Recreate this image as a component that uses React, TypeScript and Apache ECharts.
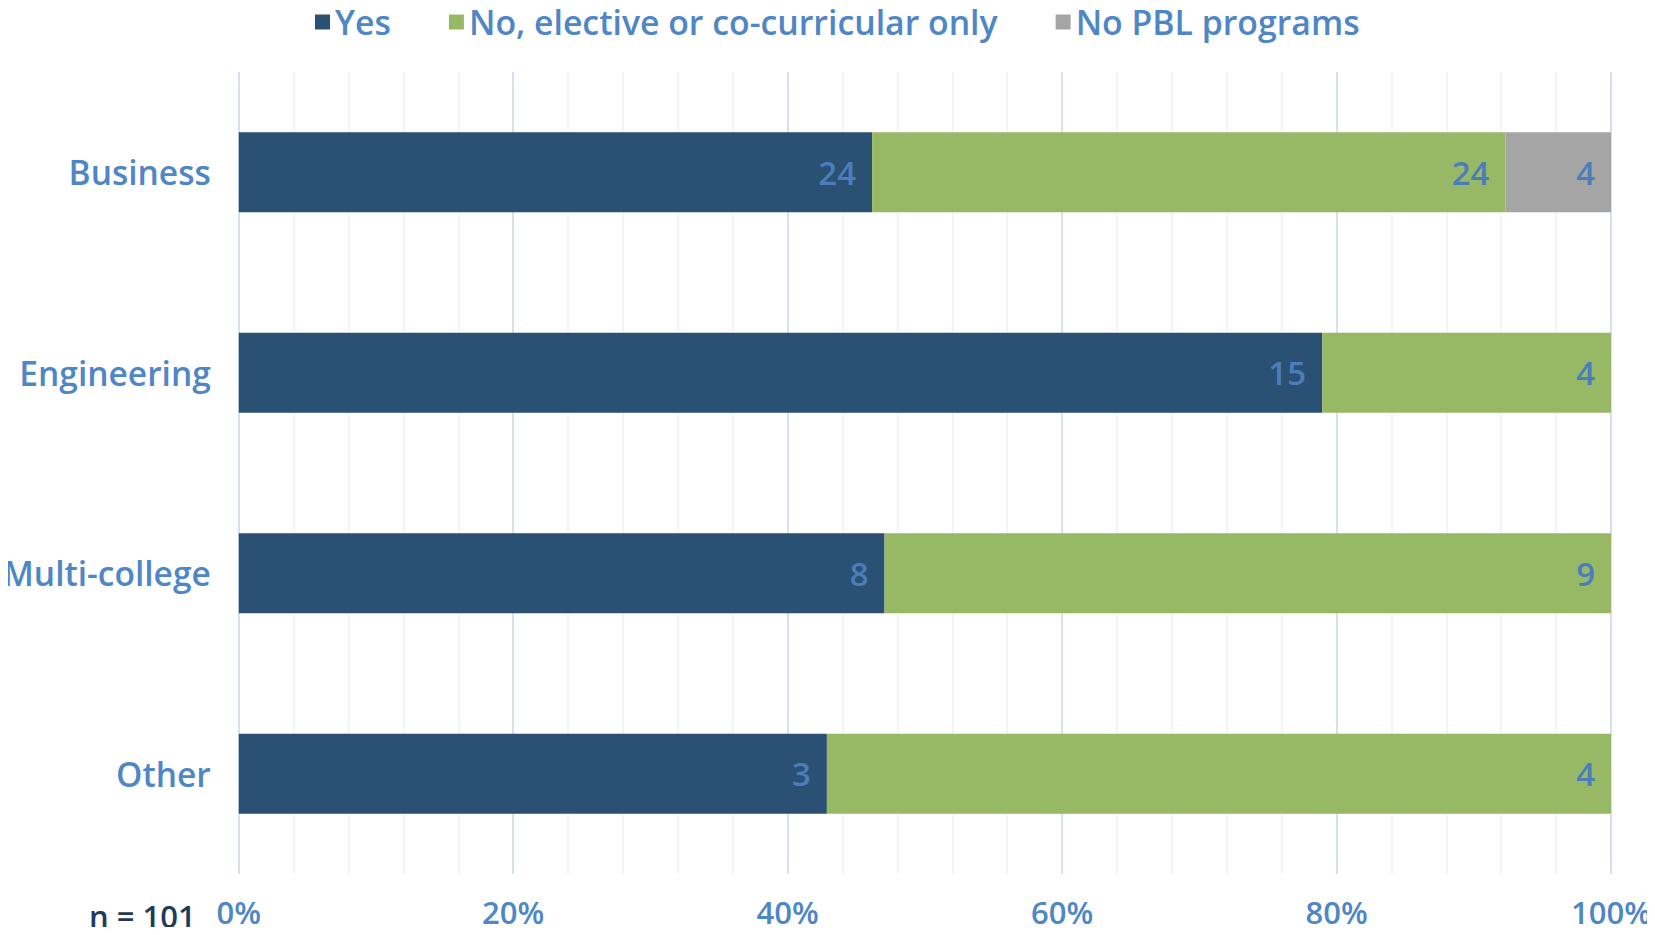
import React, { useEffect, useRef } from "react";
import * as echarts from "echarts";

const categories = ["Business", "Engineering", "Multi-college", "Other"];
const seriesNames = ["Yes", "No, elective or co-curricular only", "No PBL programs"];
const yesCounts = [24, 15, 8, 3];
const electiveCounts = [24, 4, 9, 4];
const noPblCounts = [4, 0, 0, 0];
const seriesColors = ["#2A5073", "#97B966", "#A5A5A5"];
const xTicks = [0, 20, 40, 60, 80, 100];
const noteText = "n = 101";

export default function App() {
  const ref = useRef<HTMLDivElement>(null);
  useEffect(() => {
    if (!ref.current) return;
    const chart = echarts.init(ref.current, undefined, { renderer: "svg" });
    const counts = [yesCounts, electiveCounts, noPblCounts];
    const totals = categories.map((_, i) => counts.reduce((s, arr) => s + arr[i], 0));
    const labelColor = "#4A7EBB";
    const font = "Open Sans";
    const series = counts.map((arr, si) => ({
      name: seriesNames[si],
      type: "bar",
      stack: "total",
      barCategoryGap: "60%",
      itemStyle: { color: seriesColors[si] },
      label: {
        show: true,
        position: "insideRight",
        distance: 16,
        color: labelColor,
        fontFamily: font,
        fontSize: 33,
        fontWeight: 600,
        formatter: (p: any) => (arr[p.dataIndex] > 0 ? String(arr[p.dataIndex]) : ""),
      },
      data: arr.map((v, i) => (v / totals[i]) * 100),
    }));
    chart.setOption({
      animation: false,
      legend: {
        top: 0,
        left: 310,
        itemWidth: 15,
        itemHeight: 15,
        itemGap: 58,
        icon: "rect",
        textStyle: { color: "#4F86C6", fontSize: 33.8, fontFamily: font, fontWeight: 600 },
        data: seriesNames,
      },
      grid: { left: 238.5, right: 44, top: 72, bottom: 61, containLabel: false },
      xAxis: {
        type: "value",
        min: xTicks[0],
        max: xTicks[xTicks.length - 1],
        interval: 20,
        axisLine: { show: false },
        axisTick: { show: false },
        axisLabel: {
          color: "#4F86C6",
          fontSize: 31,
          fontFamily: font,
          fontWeight: 600,
          margin: 22,
          formatter: (v: number) => `${v}%`,
        },
        splitLine: { show: true, lineStyle: { color: "#D6E1EF", width: 2 } },
        minorTick: { show: false, splitNumber: 5 },
        minorSplitLine: { show: true, lineStyle: { color: "#EDF2F8", width: 1.5 } },
      },
      yAxis: {
        type: "category",
        inverse: true,
        data: categories,
        axisLine: { show: false },
        axisTick: { show: false },
        axisLabel: {
          color: "#4F86C6",
          fontSize: 33.5,
          fontFamily: font,
          fontWeight: 600,
          margin: 28,
        },
      },
      graphic: [
        {
          type: "text",
          left: 89,
          top: 900,
          style: { text: noteText, fill: "#1F3A5A", fontSize: 31, fontFamily: font, fontWeight: 600 },
        },
      ],
      series,
    });
    return () => chart.dispose();
  }, []);
  return <div ref={ref} style={{ width: 1655, height: 935, margin: -8 }} />;
}
